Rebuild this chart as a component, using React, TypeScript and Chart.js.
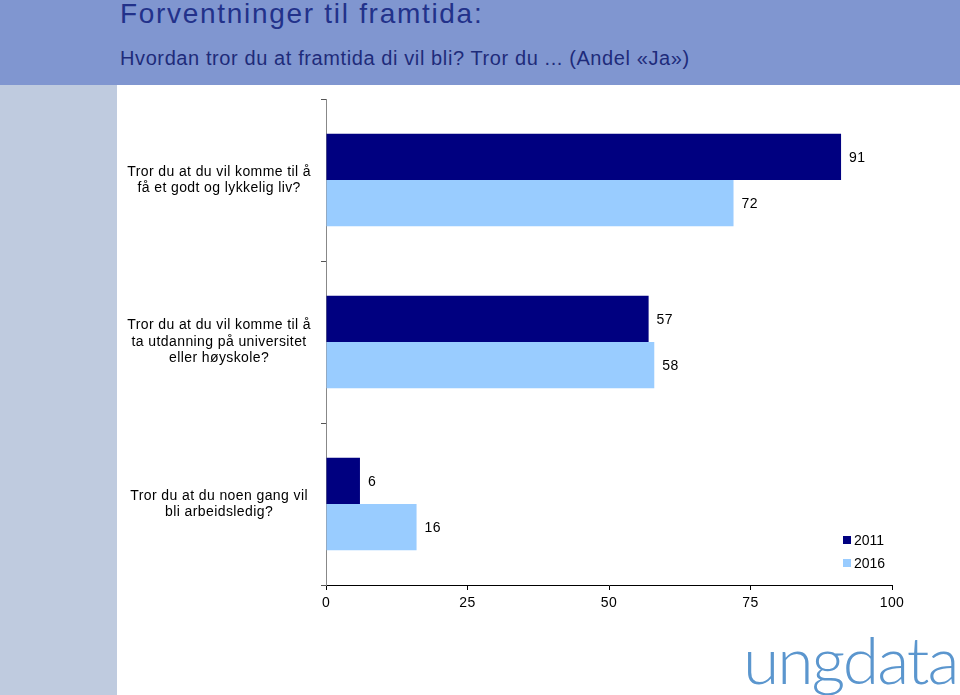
import React, { useEffect, useRef } from "react";
import { Chart, registerables } from "chart.js";

Chart.register(...registerables);

const categories: string[][] = [
  ["Tror du at du vil komme til å", "få et godt og lykkelig liv?"],
  ["Tror du at du vil komme til å", "ta utdanning på universitet", "eller høyskole?"],
  ["Tror du at du noen gang vil", "bli arbeidsledig?"],
];
const seriesNames = ["2011", "2016"];
const values2011 = [91, 57, 6];
const values2016 = [72, 58, 16];
const seriesColors = ["#000080", "#99CCFF"];
const xTicks = [0, 25, 50, 75, 100];

const FONT = "'Liberation Sans', Arial, sans-serif";

const spacing = {
  id: "spacing",
  beforeLayout(chart: any) {
    chart.ctx.letterSpacing = "0.4px";
  },
  beforeDraw(chart: any) {
    chart.ctx.letterSpacing = "0.4px";
  },
};

const valueLabels = {
  id: "valueLabels",
  afterDatasetsDraw(chart: any) {
    const ctx = chart.ctx;
    ctx.save();
    ctx.font = `14px ${FONT}`;
    ctx.fillStyle = "#000";
    ctx.textAlign = "left";
    ctx.textBaseline = "middle";
    chart.data.datasets.forEach((ds: any, di: number) => {
      const meta = chart.getDatasetMeta(di);
      meta.data.forEach((el: any, i: number) => {
        ctx.fillText(String(ds.data[i]), el.x + 8, el.y + 1);
      });
    });
    ctx.restore();
  },
};

export default function App() {
  const ref = useRef<HTMLCanvasElement | null>(null);
  useEffect(() => {
    if (!ref.current) return;
    const chart = new Chart(ref.current, {
      type: "bar",
      data: {
        labels: categories,
        datasets: [
          { label: seriesNames[0], data: values2011, backgroundColor: seriesColors[0] },
          { label: seriesNames[1], data: values2016, backgroundColor: seriesColors[1] },
        ],
      },
      options: {
        indexAxis: "y",
        animation: false,
        responsive: false,
        maintainAspectRatio: false,
        categoryPercentage: 0.57,
        barPercentage: 1,
        layout: { padding: { top: 14, right: 68, bottom: 70, left: 0 } },
        plugins: { legend: { display: false }, tooltip: { enabled: false } },
        scales: {
          x: {
            min: 0,
            max: 100,
            afterBuildTicks: (axis: any) => {
              axis.ticks = xTicks.map((v) => ({ value: v }));
            },
            afterFit: (axis: any) => {
              axis.height = 40;
            },
            border: { color: "#000", width: 1 },
            grid: { drawOnChartArea: false, drawTicks: true, tickLength: 5, color: "#000" },
            ticks: { color: "#000", font: { family: FONT, size: 14 }, padding: 5, maxRotation: 0 },
          },
          y: {
            afterFit: (axis: any) => {
              axis.width = 209;
              axis.paddingTop = 0;
              axis.paddingBottom = 0;
            },
            border: { color: "#888", width: 1 },
            grid: { drawOnChartArea: false, drawTicks: true, tickLength: 5, color: "#555" },
            ticks: {
              color: "#000",
              crossAlign: "center",
              padding: 10,
              font: { family: FONT, size: 14, lineHeight: 1.18 },
            },
          },
        },
      },
      plugins: [spacing, valueLabels],
    } as any);
    return () => chart.destroy();
  }, []);

  return (
    <div style={{ position: "absolute", left: 0, top: 0, width: 960, height: 695, overflow: "hidden", background: "#fff", fontFamily: FONT }}>
      <div style={{ position: "absolute", left: 0, top: 0, width: 960, height: 85, background: "#8096D0" }} />
      <div style={{ position: "absolute", left: 0, top: 85, width: 117, height: 610, background: "#BFCBDF" }} />
      <div style={{ position: "absolute", left: 120, top: -2, fontFamily: FONT, fontSize: 28, letterSpacing: 1.7, color: "#22318A", whiteSpace: "nowrap" }}>
        Forventninger til framtida:
      </div>
      <div style={{ position: "absolute", left: 120, top: 47, fontFamily: FONT, fontSize: 20, letterSpacing: 0.6, color: "#1E2B7A", whiteSpace: "nowrap" }}>
        Hvordan tror du at framtida di vil bli? Tror du ... (Andel «Ja»)
      </div>
      <canvas ref={ref} width={843} height={610} style={{ position: "absolute", left: 117, top: 85, width: 843, height: 610 }} />
      {seriesNames.map((n, i) => (
        <div key={n} style={{ position: "absolute", left: 843, top: 531 + i * 23, height: 18, display: "flex", alignItems: "center", fontSize: 14, color: "#000" }}>
          <span style={{ display: "inline-block", width: 8, height: 8, background: seriesColors[i], marginRight: 3 }} />
          {n}
        </div>
      ))}
      <div style={{ position: "absolute", left: 743, top: 626, fontFamily: "Lato, 'Open Sans', sans-serif", fontWeight: 300, fontSize: 66, letterSpacing: -2, color: "#5B96CE", whiteSpace: "nowrap", lineHeight: 1 }}>
        ungdata
      </div>
    </div>
  );
}
